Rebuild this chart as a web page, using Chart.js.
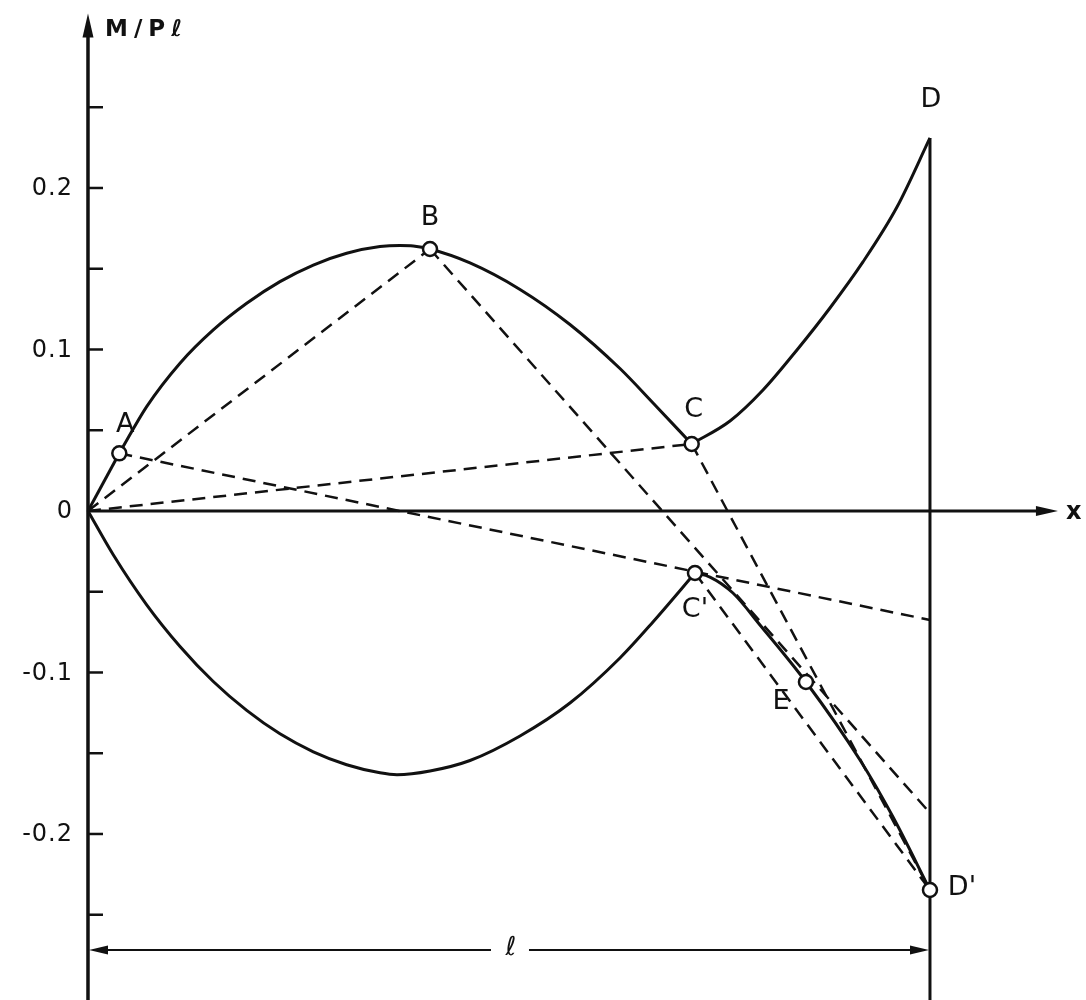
<!DOCTYPE html>
<html>
<head>
<meta charset="utf-8">
<script src="https://cdn.jsdelivr.net/npm/chart.js@4"></script>
<style>
  body { margin: 0; background: #fff; }
  #wrap { width: 1086px; height: 1000px; position: relative; }
</style>
</head>
<body>
<div id="wrap"><canvas id="chart"></canvas></div>
<script>
// x in units of l, y = M/Pl
var curveOA = [[0, 0], [0.0372, 0.0357]];
var curveABC = [[0.0372, 0.0357], [0.0697, 0.0646], [0.1093, 0.0915], [0.1488, 0.1121],
  [0.1885, 0.1286], [0.2280, 0.1420], [0.2676, 0.1523], [0.3072, 0.1596], [0.3468, 0.1637],
  [0.3705, 0.1644], [0.3863, 0.1641], [0.4062, 0.1622], [0.4537, 0.1536], [0.5131, 0.1372],
  [0.5724, 0.1155], [0.6318, 0.0882], [0.6714, 0.0667], [0.7170, 0.0415]];
var curveCD = [[0.7170, 0.0415], [0.7625, 0.0557], [0.8017, 0.0749], [0.8420, 0.0997],
  [0.8812, 0.1257], [0.9204, 0.1542], [0.9608, 0.1882], [1.0, 0.2310]];
var lineDDown = [[1.0, 0.2310], [1.0, -0.32]];
var curveOC2 = [[0, 0], [0.0300, -0.0271], [0.0697, -0.0581], [0.1093, -0.0839], [0.1488, -0.1056],
  [0.1885, -0.1235], [0.2280, -0.1380], [0.2676, -0.1491], [0.3072, -0.1571], [0.3468, -0.1621],
  [0.3670, -0.1633], [0.4062, -0.1610], [0.4537, -0.1545], [0.5131, -0.1393], [0.5724, -0.1189],
  [0.6318, -0.0910], [0.6710, -0.0687], [0.7209, -0.0384]];
var curveC2D2 = [[0.7209, -0.0384], [0.7387, -0.0409], [0.7660, -0.0508], [0.7981, -0.0706],
  [0.8527, -0.1059], [0.9169, -0.1542], [0.9561, -0.1895], [1.0, -0.2347]];

// dashed construction lines
var dashOB = [[0, 0], [0.4062, 0.1622]];
var dashOC = [[0, 0], [0.7170, 0.0415]];
var dashA = [[0.0372, 0.0357], [1.0, -0.0675]];
var dashB = [[0.4062, 0.1622], [1.0, -0.187]];
var dashCD2 = [[0.7170, 0.0415], [1.0, -0.2347]];
var dashC2D2 = [[0.7209, -0.0384], [1.0, -0.2347]];

var markNames = ["A", "B", "C", "C'", "E", "D'"];
var markPts = [[0.0372, 0.0357], [0.4062, 0.1622], [0.7170, 0.0415], [0.7209, -0.0384],
  [0.8527, -0.1059], [1.0, -0.2347]];
var labelD = [1.0, 0.2310];

var tickValues = [-0.25, -0.2, -0.15, -0.1, -0.05, 0.05, 0.1, 0.15, 0.2, 0.25];
var tickLabelValues = [0.2, 0.1, 0, -0.1, -0.2];
var tickLabelTexts = ["0.2", "0.1", "0", "-0.1", "-0.2"];

function pts(arr) {
  return arr.map(function (p) { return { x: p[0], y: p[1] }; });
}
function solid(arr, smooth) {
  return { data: pts(arr), showLine: true, borderColor: "#111", borderWidth: 3,
    pointRadius: 0, fill: false,
    cubicInterpolationMode: smooth ? "monotone" : "default", tension: 0 };
}
function dashed(arr) {
  return { data: pts(arr), showLine: true, borderColor: "#111", borderWidth: 2.5,
    borderDash: [13, 8], pointRadius: 0, tension: 0, fill: false };
}

var FONT = "'DejaVu Sans', sans-serif";

var figurePlugin = {
  id: "figure",
  beforeDatasetsDraw: function (chart) {
    var ctx = chart.ctx, xs = chart.scales.x, ys = chart.scales.y;
    var x0 = xs.getPixelForValue(0), y0 = ys.getPixelForValue(0);
    var x1 = xs.getPixelForValue(1);
    ctx.save();
    ctx.strokeStyle = "#111";
    ctx.fillStyle = "#111";
    // y axis
    var yTop = ys.getPixelForValue(0.308);
    ctx.lineWidth = 3.5;
    ctx.beginPath();
    ctx.moveTo(x0, chart.height);
    ctx.lineTo(x0, yTop + 18);
    ctx.stroke();
    ctx.beginPath();
    ctx.moveTo(x0, yTop);
    ctx.lineTo(x0 - 5.5, yTop + 24);
    ctx.lineTo(x0 + 5.5, yTop + 24);
    ctx.closePath();
    ctx.fill();
    // x axis
    var xEnd = xs.getPixelForValue(1.152);
    ctx.lineWidth = 3;
    ctx.beginPath();
    ctx.moveTo(x0, y0);
    ctx.lineTo(xEnd - 16, y0);
    ctx.stroke();
    ctx.beginPath();
    ctx.moveTo(xEnd, y0);
    ctx.lineTo(xEnd - 22, y0 - 5);
    ctx.lineTo(xEnd - 22, y0 + 5);
    ctx.closePath();
    ctx.fill();
    // ticks
    ctx.lineWidth = 2.5;
    tickValues.forEach(function (v) {
      var py = ys.getPixelForValue(v);
      ctx.beginPath();
      ctx.moveTo(x0, py);
      ctx.lineTo(x0 + 15, py);
      ctx.stroke();
    });
    // dimension line for l
    var yd = ys.getPixelForValue(-0.2718);
    var xm = xs.getPixelForValue(0.5);
    ctx.lineWidth = 2;
    ctx.beginPath();
    ctx.moveTo(x0 + 10, yd);
    ctx.lineTo(xm - 18, yd);
    ctx.moveTo(xm + 20, yd);
    ctx.lineTo(x1 - 10, yd);
    ctx.stroke();
    ctx.beginPath();
    ctx.moveTo(x0 + 1, yd);
    ctx.lineTo(x0 + 20, yd - 4.5);
    ctx.lineTo(x0 + 20, yd + 4.5);
    ctx.closePath();
    ctx.fill();
    ctx.beginPath();
    ctx.moveTo(x1 - 1, yd);
    ctx.lineTo(x1 - 20, yd - 4.5);
    ctx.lineTo(x1 - 20, yd + 4.5);
    ctx.closePath();
    ctx.fill();
    ctx.restore();
  },
  afterDatasetsDraw: function (chart) {
    var ctx = chart.ctx, xs = chart.scales.x, ys = chart.scales.y;
    var x0 = xs.getPixelForValue(0), y0 = ys.getPixelForValue(0);
    ctx.save();
    ctx.fillStyle = "#111";
    // tick labels
    ctx.font = "24px " + FONT;
    ctx.textAlign = "right";
    ctx.textBaseline = "middle";
    ctx.letterSpacing = "1px";
    tickLabelValues.forEach(function (v, i) {
      ctx.fillText(tickLabelTexts[i], x0 - 15, ys.getPixelForValue(v) + 1);
    });
    // axis titles
    ctx.font = "bold 23px " + FONT;
    ctx.textAlign = "left";
    ctx.letterSpacing = "6px";
    ctx.fillText("M/P\u2113", x0 + 17, ys.getPixelForValue(0.308) + 16);
    ctx.letterSpacing = "0px";
    ctx.font = "bold 24px " + FONT;
    ctx.fillText("x", xs.getPixelForValue(1.152) + 8, y0 + 2);
    ctx.textAlign = "center";
    ctx.font = "26px " + FONT;
    ctx.fillText("\u2113", xs.getPixelForValue(0.5) + 2, ys.getPixelForValue(-0.2718) - 2);
    // point letters
    var offsets = { "A": [6, -28], "B": [0, -31], "C": [2, -34], "C'": [0, 37], "E": [-25, 20], "D'": [32, -2] };
    ctx.font = "27px " + FONT;
    markNames.forEach(function (n, i) {
      var px = xs.getPixelForValue(markPts[i][0]) + offsets[n][0];
      var py = ys.getPixelForValue(markPts[i][1]) + offsets[n][1];
      ctx.fillText(n, px, py);
    });
    ctx.fillText("D", xs.getPixelForValue(labelD[0]) + 1, ys.getPixelForValue(labelD[1]) - 38);
    ctx.restore();
  }
};

new Chart(document.getElementById("chart"), {
  type: "scatter",
  data: {
    datasets: [
      solid(curveOA, false),
      solid(curveABC, true),
      solid(curveCD, true),
      solid(lineDDown, false),
      solid(curveOC2, true),
      solid(curveC2D2, true),
      dashed(dashOB),
      dashed(dashOC),
      dashed(dashA),
      dashed(dashB),
      dashed(dashCD2),
      dashed(dashC2D2),
      { data: pts(markPts), showLine: false, pointRadius: 7, pointBorderWidth: 2.5,
        pointBorderColor: "#111", pointBackgroundColor: "#fff", order: -1 }
    ]
  },
  options: {
    responsive: true,
    maintainAspectRatio: false,
    animation: false,
    layout: { padding: 0, autoPadding: false },
    scales: {
      x: { type: "linear", min: -0.1045, max: 1.1853, display: false },
      y: { type: "linear", min: -0.3028, max: 0.3164, display: false }
    },
    plugins: {
      legend: { display: false },
      tooltip: { enabled: false }
    }
  },
  plugins: [figurePlugin]
});
</script>
</body>
</html>
